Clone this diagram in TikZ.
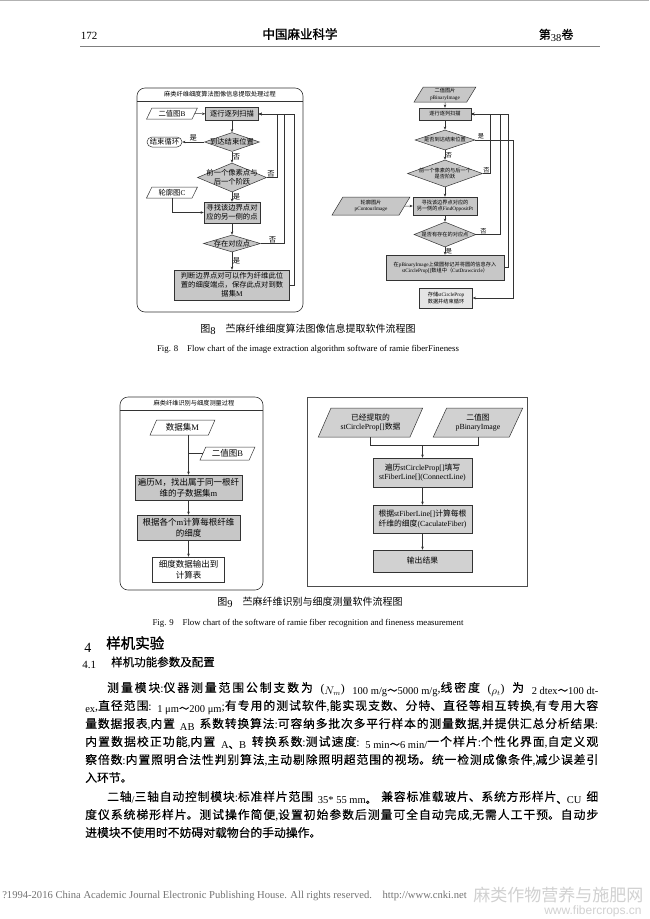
\documentclass[tikz,border=0pt]{standalone}
\usepackage{fontspec}
\setmainfont{Liberation Serif}
\setsansfont{Liberation Sans}
\newfontfamily\cjkreg{Noto Sans CJK SC}
\newfontfamily\cjkmid{Noto Sans CJK SC}[FakeBold=0.3]
\newfontfamily\cjkbold{Noto Sans CJK SC}[FakeBold=1.3]
\newcommand\cjk{\cjkreg}
\usetikzlibrary{arrows.meta, positioning, shapes.geometric}

% Chinese characters are set in the CJK font, the rest in the serif
\XeTeXinterchartokenstate=1
\newXeTeXintercharclass\cjkcls
\newcount\cjkc
\newcommand\cjkrange[2]{\cjkc=#1 \loop\XeTeXcharclass\cjkc=\cjkcls
  \ifnum\cjkc<#2 \advance\cjkc by 1 \repeat}
\cjkrange{"3000}{"303F}
\cjkrange{"4E00}{"9FFF}
\cjkrange{"FF00}{"FFEF}
\XeTeXinterchartoks 0 \cjkcls = {\cjk}
\XeTeXinterchartoks 4095 \cjkcls = {\cjk}
\XeTeXinterchartoks \cjkcls 0 = {\rmfamily}
\XeTeXinterchartoks \cjkcls 4095 = {\rmfamily}
\XeTeXlinebreaklocale "zh"
\XeTeXlinebreakskip=0pt plus 5pt minus 0.5pt

\newcommand\lo[1]{\raisebox{-2.2pt}{\fontsize{10.5}{11}\selectfont #1}}
\newcommand\gap{\hskip 3pt plus 12pt\relax}
\newcommand\bline[2]{\parbox[t]{#1}{\parfillskip=0pt\relax #2}}

\begin{document}
\begin{tikzpicture}[x=1pt, y=-1pt, >={Stealth[length=3.2pt, width=2.6pt]}, line width=0.5pt,
      f5/.style={font=\fontsize{5.2}{6.3}\selectfont},
      f6/.style={font=\fontsize{6.2}{7.5}\selectfont},
      f7/.style={font=\fontsize{7.3}{9}\selectfont},
      f8/.style={font=\fontsize{7.8}{9.8}\selectfont},
      f9/.style={font=\fontsize{8.5}{11}\selectfont},
      proc/.style={draw=black!80, fill=black!22, inner sep=0.5pt, align=center},
      io/.style={trapezium, trapezium left angle=62, trapezium right angle=118,
                 trapezium stretches=true, draw=black!80, fill=white, inner sep=0pt, align=center},
      dec/.style={diamond, draw=black!80, fill=black!22, inner sep=0pt},
      yn/.style={inner sep=0.5pt},
      flow/.style={draw=black!80, ->},
      panel/.style={draw=black!80, line width=0.6pt},
      bodyln/.style={font=\fontsize{11.8}{13}\selectfont\let\cjk\cjkmid, inner sep=0pt, anchor=base west},
      capcn/.style={font=\fontsize{10}{12}\selectfont, inner sep=0pt},
      capen/.style={font=\fontsize{8.8}{10}\selectfont, inner sep=0pt}]

    \fill[white] (0,0) rectangle (649,919);
    \useasboundingbox (0,0) rectangle (649,919);

    % ---- Running head ----
    \draw[black!30, line width=1pt] (0,0.6) -- (649,0.6);
    \node[font=\fontsize{11}{12}\selectfont] (pgno) at (89,36) {172};
    \node[font=\fontsize{12.5}{14}\selectfont\let\cjk\cjkbold] (journal) at (300,34) {中国麻业科学};
    \node[font=\fontsize{12}{14}\selectfont\let\cjk\cjkmid, anchor=east] (vol) at (577,35) {第\lo{38}卷};
    \draw[black!50, line width=0.8pt] (80,46) -- (600,46);

    % ---- Fig. 8, left chart ----
    \draw[panel, rounded corners=8pt] (137,88) rectangle (303,312);
    \draw[panel] (137,101) -- (303,101);
    \node[f6] (t8) at (220,94.5) {麻类纤维细度算法图像信息提取处理过程};

    \node[io, minimum width=51pt, minimum height=11pt, f7] (inB) at (172,113.5) {二值图B};
    \node[proc, minimum width=53pt, minimum height=13pt, f7] (scan) at (232,114) {逐行逐列扫描};
    \node[dec, minimum width=55pt, minimum height=19pt, label={[f7]center:到达结束位置}] (d1) at (232,142) {};
    \node[draw=black!80, rounded corners=5pt, minimum width=35pt, minimum height=10pt,
          inner sep=0pt, f7] (stop) at (164.5,142) {结束循环};
    \node[dec, minimum width=69pt, minimum height=29pt,
          label={[f7, align=center]center:前一个像素点与\\后一个阶跃}] (d2) at (232,177.5) {};
    \node[io, minimum width=51pt, minimum height=11pt, f7] (inC) at (172,192.5) {轮廓图C};
    \node[proc, minimum width=56pt, minimum height=21pt, f7] (find) at (232,212.5) {寻找该边界点对\\应的另一侧的点};
    \node[dec, minimum width=57pt, minimum height=17pt, label={[f7]center:存在对应点}] (d3) at (232,243.5) {};
    \node[proc, minimum width=115pt, minimum height=30pt, f7] (save) at (232,285)
          {判断边界点对可以作为纤维此位\\置的细度端点，保存此点对到数\\据集M};

    \draw[flow] (inB) -- (scan);
    \draw[flow] (scan) -- (d1);
    \draw[flow] (d1) -- (stop) node[yn, f7, pos=0.5, above] {是};
    \draw[flow] (d1) -- (d2) node[yn, f7, midway, right] {否};
    \draw[flow] (d2) -- (find) node[yn, f7, midway, right] {是};
    \draw[flow] (inC) |- (find);
    \draw[flow] (find) -- (d3);
    \draw[flow] (d3) -- (save) node[yn, f7, midway, right] {是};
    % feedback to the scan box
    \draw[flow] (d2.east) -- ++(10.5,0) node[yn, f7, pos=0.4, above] {否} |- (scan.east);
    \draw[flow] (d3.east) -- ++(23.5,0) node[yn, f7, pos=0.5, above] {否} |- (scan.east);
    \draw[flow] (save.east) -- ++(4.5,0) |- (scan.east);

    % ---- Fig. 8, right chart ----
    \node[io, fill=black!22, minimum width=62pt, minimum height=15pt, f5] (inP) at (445,94.5) {二值图片\\pBinaryImage};
    \node[proc, minimum width=52pt, minimum height=12pt, f5] (scanR) at (445,114) {逐行逐列扫描};
    \node[dec, minimum width=60pt, minimum height=20pt, label={[f5]center:是否到达结束位置}] (e1) at (445,140) {};
    \node[dec, minimum width=75pt, minimum height=27pt,
          label={[f5, align=center]center:前一个像素的与后一个\\是否阶跃}] (e2) at (445,173.5) {};
    \node[proc, minimum width=64pt, minimum height=18pt, f5] (findR) at (445,206) {寻找该边界点对应的\\另一侧的点FindOppositPt};
    \node[io, fill=black!22, minimum width=78pt, minimum height=18pt, f5] (inQ) at (371,206) {轮廓图片\\pContourImage};
    \node[dec, minimum width=62pt, minimum height=25pt, label={[f5]center:是否有存在的对应点}] (e3) at (445,234.5) {};
    \node[proc, minimum width=118pt, minimum height=25pt, f5] (mark) at (445,267.5)
          {在pBinaryImage上做圆标记并将圆的信息存入\\stCircleProp[]数组中（CutDrawcircle）};
    \node[proc, fill=black!10, minimum width=53pt, minimum height=20pt, f5] (store) at (446,298) {存储stCircleProp\\数据并结束循环};

    \draw[flow] (inP) -- (scanR);
    \draw[flow] (scanR) -- (e1);
    \draw[flow] (e1) -- (e2) node[yn, f6, midway, right] {否};
    \draw[flow] (e2) -- (findR);
    \draw[flow] (inQ) -- (findR);
    \draw[flow] (findR) -- (e3);
    \draw[flow] (e3) -- (mark) node[yn, f6, midway, right] {是};
    \draw[flow] (e2.east) -- ++(7.5,0) node[yn, f6, pos=0.5, above] {否} |- (scanR.east);
    \draw[flow] (e3.east) -- ++(24,0) node[yn, f6, pos=0.3, above] {否} |- (scanR.east);
    \draw[flow] (mark.east) -- ++(4,0) |- (scanR.east);
    \draw[flow] (e1.east) -- ++(38,0) node[yn, f6, pos=0.15, above] {是} |- (store.east);

    \node[capcn] (c8) at (308,329) {图\lo{8}\quad 苎麻纤维细度算法图像信息提取软件流程图};
    \node[capen] (e8) at (308,349) {Fig. 8\quad Flow chart of the image extraction algorithm software of ramie fiberFineness};

    % ---- Fig. 9, left chart ----
    \draw[panel, rounded corners=8pt] (120,397) rectangle (263,590);
    \draw[panel] (120,410) -- (263,410);
    \node[f6] (t9) at (194,403.5) {麻类纤维识别与细度测量过程};

    \node[io, minimum width=65pt, minimum height=15pt, f9] (inM) at (182.5,427.5) {数据集M};
    \node[io, minimum width=55pt, minimum height=13pt, f9] (inB9) at (227.5,453.5) {二值图B};
    \node[proc, minimum width=107pt, minimum height=25pt, f9] (trav) at (188.5,487.5) {遍历M，找出属于同一根纤\\维的子数据集m};
    \node[proc, minimum width=103pt, minimum height=25pt, f9] (calc) at (188.5,527.5) {根据各个m计算每根纤维\\的细度};
    \node[proc, fill=white, minimum width=72pt, minimum height=25pt, f9] (outp) at (188.5,569.5) {细度数据输出到\\计算表};

    \draw[flow] (inM.south -| trav.north) -- (trav.north);
    \draw[draw=black!80] (inB9.west) -- (inB9.west -| trav.north);
    \draw[flow] (trav) -- (calc);
    \draw[flow] (calc) -- (outp);

    % ---- Fig. 9, right chart ----
    \draw[draw=black!70, line width=0.8pt] (307,397) rectangle (527,586);
    \node[io, fill=black!18, minimum width=105pt, minimum height=29pt, f8] (inS) at (370.5,422.5) {已经提取的\\stCircleProp[]数据};
    \node[io, fill=black!18, minimum width=90pt, minimum height=29pt, f8] (inP9) at (478,422.5) {二值图\\pBinaryImage};
    \coordinate (join) at (422.5,445);
    \node[proc, fill=black!18, minimum width=99pt, minimum height=29pt, f8] (cline) at (422.5,472.5) {遍历stCircleProp[]填写\\stFiberLine[](ConnectLine)};
    \node[proc, fill=black!18, minimum width=99pt, minimum height=28pt, f8] (fib) at (422.5,519) {根据stFiberLine[]计算每根\\纤维的细度(CaculateFiber)};
    \node[proc, fill=black!18, minimum width=99pt, minimum height=22pt, f8] (res) at (422.5,561) {输出结果};

    \draw[draw=black!80] (inS.south) |- (join);
    \draw[draw=black!80] (inP9.south) |- (join);
    \draw[flow] (join) -- (cline);
    \draw[flow] (cline) -- (fib);
    \draw[flow] (fib) -- (res);

    \node[capcn] (c9) at (310,602.5) {图\lo{9}\quad 苎麻纤维识别与细度测量软件流程图};
    \node[capen] (e9) at (308,623) {Fig. 9\quad Flow chart of the software of ramie fiber recognition and fineness measurement};

    % ---- Section 4 ----
    \node[font=\fontsize{14}{16}\selectfont, anchor=west, inner sep=0pt] (s4) at (84,648) {4};
    \node[font=\fontsize{14.5}{16}\selectfont\let\cjk\cjkbold, anchor=west, inner sep=0pt] (s4t) at (106,643) {样机实验};
    \node[font=\fontsize{11}{13}\selectfont, anchor=west, inner sep=0pt] (s41) at (82,665) {4.1};
    \node[font=\fontsize{11.5}{13}\selectfont\let\cjk\cjkmid, anchor=west, inner sep=0pt] (s41t) at (111,662) {样机功能参数及配置};

    \node[bodyln] (l1) at (107,692) {\bline{491pt}{测量模块:仪器测量范围公制支数为\gap(\lo{$N_m$})\gap\lo{100 m/g～5000 m/g},线密度\gap(\lo{$\rho_t$})\gap 为\gap\lo{2 dtex～100 dt-}}};
    \node[bodyln] (l2) at (85,710) {\bline{513pt}{\lo{ex},直径范围:\gap\lo{1 μm～200 μm};有专用的测试软件,能实现支数、分特、直径等相互转换,有专用大容}};
    \node[bodyln] (l3) at (85,728) {\bline{513pt}{量数据报表,内置\gap\lo{AB}\gap 系数转换算法:可容纳多批次多平行样本的测量数据,并提供汇总分析结果:}};
    \node[bodyln] (l4) at (85,746) {\bline{513pt}{内置数据校正功能,内置\gap\lo{A、B}\gap 转换系数:测试速度:\gap\lo{5 min～6 min/}一个样片:个性化界面,自定义观}};
    \node[bodyln] (l5) at (85,764) {\bline{513pt}{察倍数:内置照明合法性判别算法,主动剔除照明超范围的视场。统一检测成像条件,减少误差引}};
    \node[bodyln] (l6) at (85,782) {入环节。};
    \node[bodyln] (l7) at (107,801) {\bline{491pt}{二轴\lo{/}三轴自动控制模块:标准样片范围\gap\lo{35* 55 mm。}\gap 兼容标准载玻片、系统方形样片\lo{、CU}\gap 细}};
    \node[bodyln] (l8) at (85,819) {\bline{513pt}{度仪系统梯形样片。测试操作简便,设置初始参数后测量可全自动完成,无需人工干预。自动步}};
    \node[bodyln] (l9) at (85,837) {进模块不使用时不妨碍对载物台的手动操作。};

    % ---- Foot line and watermark ----
    \node[font=\fontsize{10.6}{11}\selectfont, text=black!55, anchor=west, inner sep=0pt] (foot) at (2,896)
          {?1994-2016 China Academic Journal Electronic Publishing House. All rights reserved.\quad http://www.cnki.net};
    \node[font=\fontsize{17}{18}\selectfont, text=black!18, anchor=west, inner sep=0pt] (wm1) at (473,895) {麻类作物营养与施肥网};
    \node[font=\sffamily\fontsize{12}{14}\selectfont, text=black!18, anchor=west, inner sep=0pt] (wm2) at (544,911) {www.fibercrops.cn};

\end{tikzpicture}
\end{document}
